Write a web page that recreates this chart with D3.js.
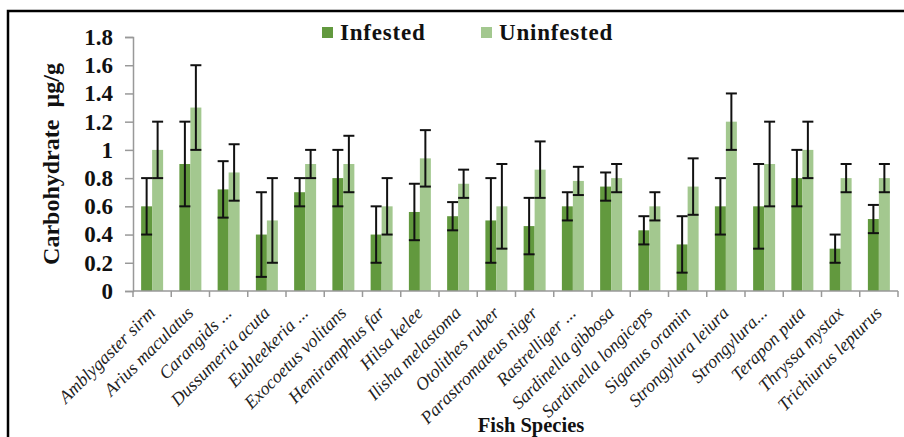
<!DOCTYPE html>
<html>
<head>
<meta charset="utf-8">
<script src="https://cdn.jsdelivr.net/npm/d3@7"></script>
<style>
  body { margin: 0; background: #fff; }
  svg { display: block; }
</style>
</head>
<body>
<div id="chart"></div>
<script>
// data
var species = ["Amblygaster sirm", "Arius maculatus", "Carangids ...", "Dussumeria acuta",
  "Eubleekeria ...", "Exocoetus volitans", "Hemiramphus far", "Hilsa kelee",
  "Ilisha melastoma", "Otolithes ruber", "Parastromateus niger", "Rastrelliger ...",
  "Sardinella gibbosa", "Sardinella longiceps", "Siganus oramin", "Strongylura leiura",
  "Strongylura...", "Terapon puta", "Thryssa mystax", "Trichiurus lepturus"];
var infested = [0.6, 0.9, 0.72, 0.4, 0.7, 0.8, 0.4, 0.56, 0.53, 0.5, 0.46, 0.6, 0.74, 0.43, 0.33, 0.6, 0.6, 0.8, 0.3, 0.51];
var infestedErr = [0.2, 0.3, 0.2, 0.3, 0.1, 0.2, 0.2, 0.2, 0.1, 0.3, 0.2, 0.1, 0.1, 0.1, 0.2, 0.2, 0.3, 0.2, 0.1, 0.1];
var uninfested = [1.0, 1.3, 0.84, 0.5, 0.9, 0.9, 0.6, 0.94, 0.76, 0.6, 0.86, 0.78, 0.8, 0.6, 0.74, 1.2, 0.9, 1.0, 0.8, 0.8];
var uninfestedErr = [0.2, 0.3, 0.2, 0.3, 0.1, 0.2, 0.2, 0.2, 0.1, 0.3, 0.2, 0.1, 0.1, 0.1, 0.2, 0.2, 0.3, 0.2, 0.1, 0.1];
var seriesNames = ["Infested", "Uninfested"];
var yTicks = [0, 0.2, 0.4, 0.6, 0.8, 1, 1.2, 1.4, 1.6, 1.8];

var colors = ["#62993e", "#a3c88f"];
var serif = "Liberation Serif";

var svgWidth = 904, svgHeight = 437;
var margin = { top: 37, right: 6, bottom: 146, left: 133 };
var chartWidth = svgWidth - margin.left - margin.right;
var chartHeight = svgHeight - margin.top - margin.bottom;

var svg = d3.select("#chart").append("svg")
  .attr("width", svgWidth)
  .attr("height", svgHeight);

// outer frame (right and bottom run off the picture)
svg.append("rect")
  .attr("x", 8).attr("y", 11)
  .attr("width", 920).attr("height", 450)
  .attr("fill", "none")
  .attr("stroke", "#000")
  .attr("stroke-width", 2.5);

var chartGroup = svg.append("g")
  .attr("transform", `translate(${margin.left}, ${margin.top})`);

var rows = species.map(function(s, i) {
  return { name: s, vals: [
    { k: 0, v: infested[i], e: infestedErr[i] },
    { k: 1, v: uninfested[i], e: uninfestedErr[i] }
  ]};
});

var x0 = d3.scaleBand().domain(species).range([0, chartWidth]).padding(0);
var x1 = d3.scaleBand().domain([0, 1]).range([0, x0.bandwidth()]).paddingInner(0).paddingOuter(0.74);
var y = d3.scaleLinear().domain([0, 1.8]).range([chartHeight, 0]);

// bars
var groups = chartGroup.selectAll("g.grp")
  .data(rows)
  .enter().append("g")
  .attr("class", "grp")
  .attr("transform", d => `translate(${x0(d.name)},0)`);

groups.selectAll("rect")
  .data(d => d.vals)
  .enter().append("rect")
  .attr("x", d => x1(d.k))
  .attr("y", d => y(d.v))
  .attr("width", x1.bandwidth())
  .attr("height", d => chartHeight - y(d.v))
  .attr("fill", d => colors[d.k]);

// error bars
var capW = 5.5;
var err = groups.selectAll("g.err")
  .data(d => d.vals)
  .enter().append("g")
  .attr("class", "err")
  .attr("stroke", "#111")
  .attr("stroke-width", 2);
err.append("line")
  .attr("x1", d => x1(d.k) + x1.bandwidth() / 2)
  .attr("x2", d => x1(d.k) + x1.bandwidth() / 2)
  .attr("y1", d => y(d.v - d.e))
  .attr("y2", d => y(d.v + d.e));
err.append("line")
  .attr("x1", d => x1(d.k) + x1.bandwidth() / 2 - capW)
  .attr("x2", d => x1(d.k) + x1.bandwidth() / 2 + capW)
  .attr("y1", d => y(d.v + d.e))
  .attr("y2", d => y(d.v + d.e));
err.append("line")
  .attr("x1", d => x1(d.k) + x1.bandwidth() / 2 - capW)
  .attr("x2", d => x1(d.k) + x1.bandwidth() / 2 + capW)
  .attr("y1", d => y(d.v - d.e))
  .attr("y2", d => y(d.v - d.e));

// y axis
var yAxis = d3.axisLeft(y).tickValues(yTicks).tickSize(8).tickPadding(12)
  .tickFormat(d => d3.format("")(+d.toFixed(1)));
var yg = chartGroup.append("g").call(yAxis);
yg.attr("font-family", serif);
yg.select(".domain").attr("stroke", "#999").attr("stroke-width", 1.5);
yg.selectAll(".tick line").attr("stroke", "#999").attr("stroke-width", 1.5);
yg.selectAll(".tick text")
  .attr("font-family", serif)
  .attr("font-weight", "bold")
  .attr("font-size", "23px")
  .attr("fill", "#111");

// x axis: ticks sit between categories
var xg = chartGroup.append("g")
  .attr("transform", `translate(0, ${chartHeight})`);
xg.append("line")
  .attr("x1", 0).attr("x2", chartWidth)
  .attr("stroke", "#999").attr("stroke-width", 1.5);
xg.selectAll("line.tk")
  .data(species.concat(["end"]))
  .enter().append("line")
  .attr("class", "tk")
  .attr("x1", (d, i) => i * x0.step())
  .attr("x2", (d, i) => i * x0.step())
  .attr("y1", 0).attr("y2", 6)
  .attr("stroke", "#999").attr("stroke-width", 1.5);
xg.selectAll("text")
  .data(species)
  .enter().append("text")
  .attr("transform", d => `translate(${x0(d) + x0.bandwidth() / 2 + 4}, 23) rotate(-45)`)
  .attr("text-anchor", "end")
  .attr("font-family", serif)
  .attr("font-style", "italic")
  .attr("font-size", "18px")
  .attr("fill", "#222")
  .text(d => d);

// axis titles
svg.append("text")
  .attr("transform", "translate(59, 164) rotate(-90)")
  .attr("text-anchor", "middle")
  .attr("font-family", serif)
  .attr("font-weight", "bold")
  .attr("font-size", "24px")
  .attr("fill", "#111")
  .style("white-space", "pre")
  .text("Carbohydrate  µg/g");

svg.append("text")
  .attr("x", 531).attr("y", 432)
  .attr("text-anchor", "middle")
  .attr("font-family", serif)
  .attr("font-weight", "bold")
  .attr("font-size", "20.5px")
  .attr("fill", "#111")
  .text("Fish Species");

// legend
var legendX = [322, 481];
var legend = svg.selectAll("g.legend")
  .data(seriesNames)
  .enter().append("g")
  .attr("class", "legend")
  .attr("transform", (d, i) => `translate(${legendX[i]}, 27)`);
legend.append("rect")
  .attr("width", 11).attr("height", 11)
  .attr("fill", (d, i) => colors[i]);
legend.append("text")
  .attr("x", 18).attr("y", 13)
  .attr("font-family", serif)
  .attr("font-weight", "bold")
  .attr("font-size", "23px")
  .attr("letter-spacing", "0.8px")
  .attr("fill", "#111")
  .text(d => d);
</script>
</body>
</html>
